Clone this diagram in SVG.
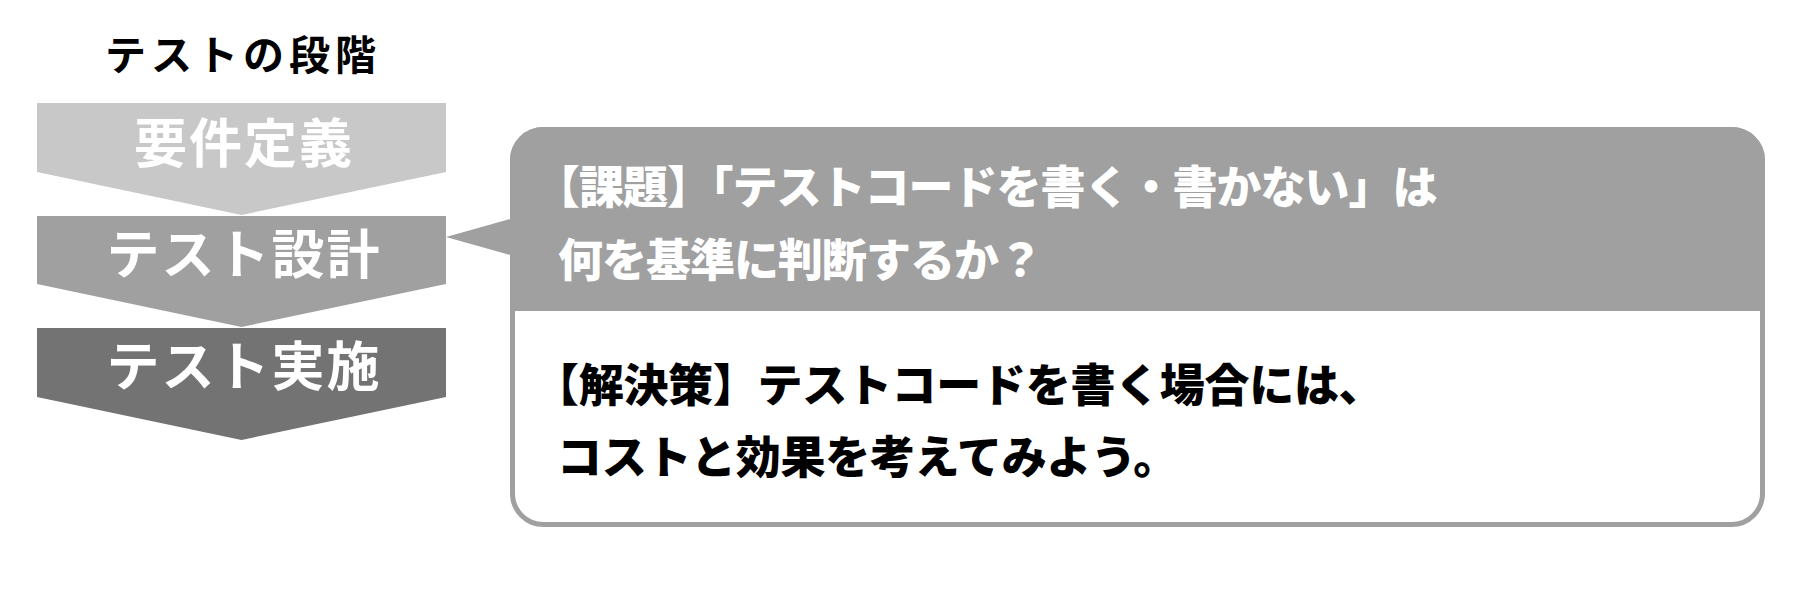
<svg xmlns="http://www.w3.org/2000/svg" width="1800" height="590" viewBox="0 0 1800 590">
<style>
  .jp { font-family: "Noto Sans CJK JP", "Noto Sans", sans-serif; }
  .title { font-size: 41px; font-weight: 700; fill: #000; letter-spacing: 5px; }
  .step { font-size: 53px; font-weight: 700; fill: #fff; letter-spacing: 2px; }
  .head { font-size: 45px; font-weight: 900; fill: #fff; letter-spacing: -1px; }
  .body { font-size: 45px; font-weight: 900; fill: #000; letter-spacing: -0.3px; }
</style>
<rect width="1800" height="590" fill="#fff"/>
<text id="title" class="jp title" x="243" y="70" text-anchor="middle">テストの段階</text>
<g id="step1">
  <polygon points="37,103 446,103 446,172 241.5,215 37,172" fill="#c8c8c8"/>
  <text class="jp step" x="244" y="163" text-anchor="middle">要件定義</text>
</g>
<g id="step2">
  <polygon points="37,216 446,216 446,284 241.5,327 37,284" fill="#a0a0a0"/>
  <text class="jp step" x="244" y="274" text-anchor="middle">テスト設計</text>
</g>
<g id="step3">
  <polygon points="37,328 446,328 446,397 241.5,440 37,397" fill="#737373"/>
  <text class="jp step" x="244" y="386" text-anchor="middle">テスト実施</text>
</g>
<g id="connectors">
  <polygon points="446,237 514,218 514,256" fill="#a0a0a0"/>
</g>
<g id="callout">
  <rect x="512.5" y="129.5" width="1250" height="395" rx="31" ry="31" fill="#fff" stroke="#a0a0a0" stroke-width="5"/>
  <path d="M510,311 L510,160 A33,33 0 0 1 543,127 L1732,127 A33,33 0 0 1 1765,160 L1765,311 Z" fill="#a0a0a0"/>
  <text class="jp head" x="535" y="204">【課題】「テストコードを書く・書かない」は</text>
  <text class="jp head" x="558" y="277">何を基準に判断するか？</text>
  <text class="jp body" x="534" y="402">【解決策】テストコードを書く場合には、</text>
  <text class="jp body" x="557" y="474">コストと効果を考えてみよう。</text>
</g>
</svg>
